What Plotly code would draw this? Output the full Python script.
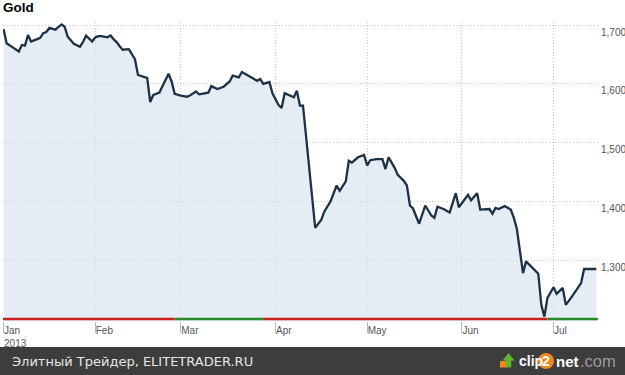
import plotly.graph_objects as go

# ---------------- data ----------------
dates = [
    "2013-01-02", "2013-01-03", "2013-01-05", "2013-01-07", "2013-01-08", "2013-01-09",
    "2013-01-10", "2013-01-11", "2013-01-13", "2013-01-14", "2013-01-15", "2013-01-16",
    "2013-01-17", "2013-01-19", "2013-01-20", "2013-01-21", "2013-01-22", "2013-01-23",
    "2013-01-25", "2013-01-26", "2013-01-27", "2013-01-28", "2013-01-29", "2013-01-31",
    "2013-02-01", "2013-02-02", "2013-02-03", "2013-02-05", "2013-02-06", "2013-02-07",
    "2013-02-08", "2013-02-09", "2013-02-10", "2013-02-12", "2013-02-13", "2013-02-14",
    "2013-02-15", "2013-02-17", "2013-02-18", "2013-02-19", "2013-02-20", "2013-02-22",
    "2013-02-23", "2013-02-25", "2013-02-26", "2013-02-27", "2013-03-01", "2013-03-03",
    "2013-03-04", "2013-03-06", "2013-03-07", "2013-03-08", "2013-03-10", "2013-03-11",
    "2013-03-13", "2013-03-15", "2013-03-17", "2013-03-18", "2013-03-20", "2013-03-21",
    "2013-03-23", "2013-03-24", "2013-03-26", "2013-03-27", "2013-03-28", "2013-03-30",
    "2013-03-31", "2013-04-02", "2013-04-03", "2013-04-04", "2013-04-07", "2013-04-08",
    "2013-04-09", "2013-04-10", "2013-04-14", "2013-04-16", "2013-04-17", "2013-04-19",
    "2013-04-21", "2013-04-22", "2013-04-24", "2013-04-25", "2013-04-26", "2013-04-28",
    "2013-04-30", "2013-05-01", "2013-05-02", "2013-05-04", "2013-05-06", "2013-05-07",
    "2013-05-08", "2013-05-10", "2013-05-11", "2013-05-13", "2013-05-14", "2013-05-15",
    "2013-05-16", "2013-05-18", "2013-05-20", "2013-05-22", "2013-05-23", "2013-05-24",
    "2013-05-26", "2013-05-28", "2013-05-30", "2013-05-31", "2013-06-03", "2013-06-04",
    "2013-06-06", "2013-06-07", "2013-06-10", "2013-06-11", "2013-06-12", "2013-06-13",
    "2013-06-15", "2013-06-17", "2013-06-18", "2013-06-19", "2013-06-21", "2013-06-22",
    "2013-06-26", "2013-06-27", "2013-06-28", "2013-06-29", "2013-07-01", "2013-07-02",
    "2013-07-04", "2013-07-05", "2013-07-07", "2013-07-10", "2013-07-11", "2013-07-15",
]
gold_price = [
    1693, 1669, 1662, 1655, 1666, 1665,
    1683, 1672, 1676, 1678, 1686, 1688,
    1695, 1692, 1697, 1701, 1697, 1680,
    1668, 1665, 1663, 1671, 1682, 1672,
    1679, 1681, 1681, 1679, 1682, 1676,
    1671, 1664, 1658, 1659, 1650, 1642,
    1615, 1612, 1610, 1569, 1581, 1585,
    1595, 1617, 1604, 1583, 1580, 1578,
    1580, 1587, 1582, 1583, 1585, 1596,
    1591, 1595, 1604, 1614, 1611, 1620,
    1613, 1611, 1605, 1608, 1600, 1603,
    1584, 1564, 1559, 1584, 1577, 1588,
    1563, 1563, 1355, 1369, 1383, 1400,
    1427, 1418, 1434, 1469, 1466, 1475,
    1479, 1461, 1470, 1472, 1472, 1455,
    1475, 1457, 1445, 1435, 1427, 1393,
    1388, 1362, 1393, 1376, 1372, 1391,
    1387, 1381, 1414, 1390, 1411, 1402,
    1414, 1386, 1387, 1379, 1389, 1387,
    1392, 1386, 1372, 1353, 1278, 1298,
    1277, 1224, 1204, 1236, 1254, 1243,
    1253, 1224, 1238, 1261, 1285, 1285,
]

# monthly change indicator along the base line (red = down, green = up)
seg_start = ["2013-01-01", "2013-02-27", "2013-03-28", "2013-06-29"]
seg_end = ["2013-02-27", "2013-03-28", "2013-06-29", "2013-07-15 12:00"]
seg_up = [False, True, False, True]
base_value = 1200

month_ticks = ["2013-01-02", "2013-02-01", "2013-03-01", "2013-04-01",
               "2013-05-01", "2013-06-01", "2013-07-01"]
month_labels = ["Jan<br>2013", "Feb", "Mar", "Apr", "May", "Jun", "Jul"]
price_ticks = [1300, 1400, 1500, 1600, 1700]

title_text = "Gold"
footer_text = "Элитный Трейдер, ELITETRADER.RU"

# ---------------- layout geometry ----------------
W, H = 625, 375
ML, MR, MT, MB = 3, 25, 22, 54
PW, PH = W - ML - MR, H - MT - MB


def px(xp):
    return (xp - ML) / PW


def py(yp):
    return (H - MB - yp) / PH


fig = go.Figure()

fig.add_trace(go.Scatter(
    x=dates, y=gold_price, mode="lines",
    line=dict(color="#1d3146", width=2.3),
    fill="tozeroy", fillcolor="rgba(214,224,236,0.62)",
    hoverinfo="x+y", showlegend=False,
))

for s, e, up in zip(seg_start, seg_end, seg_up):
    fig.add_trace(go.Scatter(
        x=[s, e], y=[base_value, base_value], mode="lines",
        line=dict(color="#2a8a2a" if up else "#cc2020", width=2.6),
        hoverinfo="skip", showlegend=False,
    ))

shapes = [
    # footer band
    dict(type="rect", xref="paper", yref="paper",
         x0=px(0), x1=px(W), y0=py(H), y1=py(347),
         fillcolor="#3d3d3d", line=dict(width=0), layer="above"),
    # logo: orange base
    dict(type="rect", xref="paper", yref="paper",
         x0=px(500), x1=px(507), y0=py(367.5), y1=py(361),
         fillcolor="#f08a1c", line=dict(width=0), layer="above"),
    # logo: green arrow
    dict(type="path", xref="paper", yref="paper",
         path=(f"M {px(502.5)},{py(360.5)} L {px(508.5)},{py(353)} L {px(514.5)},{py(360.5)} "
               f"L {px(511.3)},{py(360.5)} L {px(511.3)},{py(367.5)} L {px(506)},{py(367.5)} "
               f"L {px(506)},{py(360.5)} Z"),
         fillcolor="#5cb82e", line=dict(width=0), layer="above"),
    # logo: orange circle behind "2"
    dict(type="circle", xref="paper", yref="paper",
         x0=px(538), x1=px(554), y0=py(369), y1=py(353),
         fillcolor="#f08a1c", line=dict(width=0), layer="above"),
]

annotations = [
    dict(text=footer_text, xref="paper", yref="paper", x=px(10), y=py(361.5),
         xanchor="left", yanchor="middle", showarrow=False,
         font=dict(family="DejaVu Sans", size=13, color="#e6e6e6")),
    dict(text="<b>clip</b>", xref="paper", yref="paper", x=px(517), y=py(361),
         xanchor="left", yanchor="middle", showarrow=False,
         font=dict(family="Liberation Sans", size=14, color="#ffffff")),
    dict(text="<b>2</b>", xref="paper", yref="paper", x=px(546), y=py(361),
         xanchor="center", yanchor="middle", showarrow=False,
         font=dict(family="Liberation Sans", size=14, color="#ffffff")),
    dict(text="<b>net</b>", xref="paper", yref="paper",
         x=px(554), y=py(361), xanchor="left", yanchor="middle", showarrow=False,
         font=dict(family="Liberation Sans", size=15, color="#ffffff")),
    dict(text=".com", xref="paper", yref="paper",
         x=px(578), y=py(361), xanchor="left", yanchor="middle", showarrow=False,
         font=dict(family="Liberation Sans", size=16.5, color="#9a9a9a")),
]

fig.update_layout(
    width=W, height=H,
    margin=dict(l=ML, r=MR, t=MT, b=MB, pad=0, autoexpand=False),
    paper_bgcolor="white", plot_bgcolor="white",
    title=dict(text=f"<b>{title_text}</b>", x=3 / W, xanchor="left",
               y=1 - 7 / H, yanchor="middle",
               font=dict(family="Liberation Sans", size=13.5, color="#000000")),
    shapes=shapes, annotations=annotations,
    showlegend=False,
    xaxis=dict(
        type="date", automargin=False,
        range=["2013-01-01 19:38", "2013-07-16 04:48"],
        tickvals=month_ticks, ticktext=month_labels,
        ticks="outside", ticklen=11, tickwidth=1, tickcolor="#bbbbbb",
        ticklabelposition="outside right", ticklabelstandoff=0,
        tickfont=dict(family="Liberation Sans", size=10, color="#555555"),
        showgrid=True, gridcolor="#c8c8c8", griddash="1px,2px", gridwidth=1,
        showline=False, zeroline=False, fixedrange=True,
    ),
    yaxis=dict(
        side="right", automargin=False,
        range=[1196.6, 1705.1],
        tickvals=price_ticks, tickformat=",",
        ticks="", ticklabelposition="outside bottom",
        tickfont=dict(family="Liberation Sans", size=10, color="#555555"),
        showgrid=True, gridcolor="#c8c8c8", griddash="1px,2px", gridwidth=1,
        showline=False, zeroline=False, fixedrange=True,
    ),
)

fig.write_html(
    "out.html",
    config={"displayModeBar": False},
    post_script="document.body.style.margin='0';document.body.style.overflow='hidden';",
)
